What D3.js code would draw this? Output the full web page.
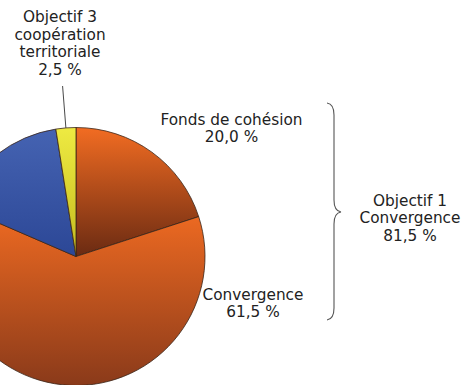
<!DOCTYPE html>
<html>
<head>
<meta charset="utf-8">
<script src="https://cdn.jsdelivr.net/npm/d3@7"></script>
<style>
  html, body { margin: 0; padding: 0; background: #fff; }
  svg { display: block; }
  text { font-family: "DejaVu Sans", Verdana, sans-serif; fill: #222; }
</style>
</head>
<body>
<svg id="chart" width="464" height="385"></svg>
<script>
// ---- data ----
const categories = ["Fonds de cohésion", "Convergence", "Compétitivité régionale et emploi", "Objectif 3 coopération territoriale"];
const values = [20.0, 61.5, 16.0, 2.5];
const topColors = ["#f26c22", "#f26c22", "#4563b2", "#eeea42"];
const bottomColors = ["#6a2a12", "#8a3a1a", "#2c4796", "#c4bc1e"];
const labelLines = [
  ["Fonds de cohésion", "20,0 %"],
  ["Convergence", "61,5 %"],
  [],
  ["Objectif 3", "coopération", "territoriale", "2,5 %"]
];
const groupLabel = ["Objectif 1", "Convergence", "81,5 %"];

// ---- layout ----
(function () {
const svg = d3.select("#chart");
const cx = 76, cy = 256.5, r = 129;
const lineH = 17.5;
const fontSize = 15.3;

const pie = d3.pie().sort(null).value(d => d.value);
const data = categories.map((c, i) => ({ name: c, value: values[i], i }));
const arcs = pie(data);
const arc = d3.arc().innerRadius(0).outerRadius(r);

const defs = svg.append("defs");
arcs.forEach((a, i) => {
  const g = defs.append("linearGradient")
    .attr("id", "grad" + i)
    .attr("x1", 0).attr("y1", 0).attr("x2", 0).attr("y2", 1);
  g.append("stop").attr("offset", "0%").attr("stop-color", topColors[i]);
  g.append("stop").attr("offset", "100%").attr("stop-color", bottomColors[i]);
});

const gPie = svg.append("g").attr("transform", `translate(${cx},${cy})`);
gPie.selectAll("path.slice")
  .data(arcs)
  .join("path")
  .attr("class", "slice")
  .attr("d", arc)
  .attr("fill", (d, i) => `url(#grad${i})`)
  .attr("stroke", "#3a2418")
  .attr("stroke-width", 0.8)
  .attr("stroke-linejoin", "round");

// leader line for small slice (radial)
const small = arcs[3];
const midA = (small.startAngle + small.endAngle) / 2;
const p1 = [Math.sin(midA) * r, -Math.cos(midA) * r];
const p2 = [Math.sin(midA) * (r + 42), -Math.cos(midA) * (r + 42)];
gPie.append("line")
  .attr("x1", p1[0]).attr("y1", p1[1])
  .attr("x2", p2[0]).attr("y2", p2[1])
  .attr("stroke", "#333").attr("stroke-width", 0.9);

// labels
function multiline(x, y, lines) {
  const t = svg.append("text")
    .attr("x", x).attr("y", y)
    .attr("text-anchor", "middle")
    .style("font-size", fontSize + "px");
  lines.forEach((l, k) => {
    t.append("tspan").attr("x", x).attr("y", y + k * lineH).text(l);
  });
}
multiline(60, 22, labelLines[3]);
multiline(231.5, 124.5, labelLines[0]);
multiline(253, 299.5, labelLines[1]);
multiline(410, 205.5, groupLabel);

// brace
const bx = 334, bTop = 103, bBot = 320, bMid = 212, bTip = 341, bEdge = 327;
const brace = d3.path();
brace.moveTo(bEdge, bTop);
brace.quadraticCurveTo(bx, bTop + 1, bx, bTop + 12);
brace.lineTo(bx, bMid - 12);
brace.quadraticCurveTo(bx, bMid - 1, bTip, bMid);
brace.quadraticCurveTo(bx, bMid + 1, bx, bMid + 12);
brace.lineTo(bx, bBot - 12);
brace.quadraticCurveTo(bx, bBot - 1, bEdge, bBot);
svg.append("path")
  .attr("d", brace.toString())
  .attr("fill", "none")
  .attr("stroke", "#555")
  .attr("stroke-width", 1.1);
})();
</script>
</body>
</html>
